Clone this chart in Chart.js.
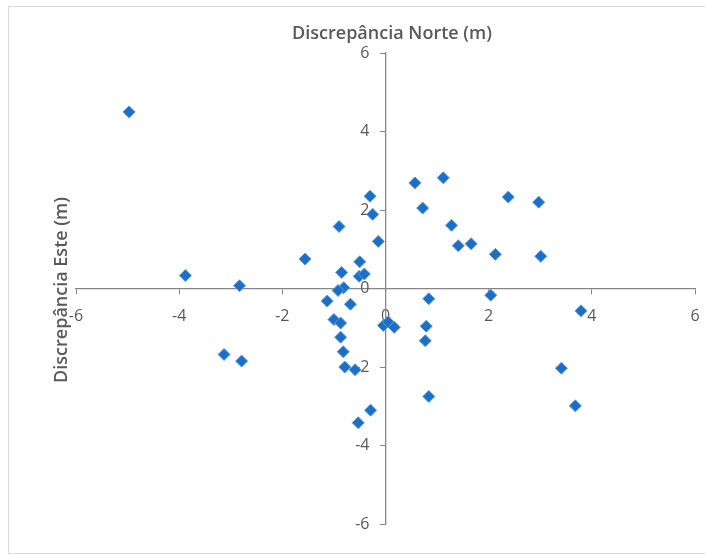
<!DOCTYPE html>
<html>
<head>
<meta charset="utf-8">
<script src="https://cdn.jsdelivr.net/npm/chart.js@4/dist/chart.umd.min.js"></script>
<style>
  html, body { margin: 0; padding: 0; background: #fff; }
  #wrap { position: relative; width: 705px; height: 556px; }
  #frame { position: absolute; left: 8px; top: 6px; width: 705px; height: 548px; border: 1px solid #d9d9d9; box-sizing: border-box; }
  canvas { position: absolute; left: 0; top: 0; }
</style>
</head>
<body>
<div id="wrap">
  <div id="frame"></div>
  <canvas id="discChart" width="705" height="556"></canvas>
</div>
<script>
// x = horizontal value, y = vertical value of each point
var xDisc = [-4.97, -3.88, -2.83, -1.56, -0.90, -0.30, -0.25, -0.14, -0.50, -0.85,
             -0.51, -0.41, -0.81, -0.92, -1.13, -0.68, -1.00, -0.87, -0.87, -0.82,
             -0.79, -0.59, -3.13, -2.79, -0.29, -0.53, -0.04, 0.05, 0.17, 0.84,
             2.04, 3.79, 0.79, 0.77, 3.41, 0.84, 3.68, 0.57, 1.12, 0.72,
             2.38, 2.97, 1.28, 1.41, 1.66, 2.13, 3.01];
var yDisc = [4.50, 0.33, 0.07, 0.75, 1.58, 2.35, 1.89, 1.20, 0.68, 0.41,
             0.31, 0.37, 0.02, -0.05, -0.32, -0.40, -0.79, -0.88, -1.24, -1.61,
             -2.00, -2.07, -1.68, -1.85, -3.10, -3.42, -0.94, -0.85, -0.99, -0.26,
             -0.17, -0.57, -0.96, -1.33, -2.03, -2.75, -2.99, 2.69, 2.82, 2.05,
             2.33, 2.20, 1.61, 1.09, 1.14, 0.87, 0.82];
var axisMin = -6, axisMax = 6, axisStep = 2;
var titleTop = 'Discrepância Norte (m)';
var titleLeft = 'Discrepância Este (m)';

var points = xDisc.map(function (x, i) { return { x: x, y: yDisc[i] }; });

// both axis titles, placed like the Excel chart (top one centred on the frame)
var axisTitlesPlugin = {
    id: 'axisTitles',
    afterDraw: function (chart) {
        var ctx = chart.ctx;
        ctx.save();
        ctx.font = '600 18px "Open Sans"';
        ctx.fillStyle = '#595959';
        ctx.textAlign = 'center';
        ctx.textBaseline = 'middle';
        ctx.fillText(titleTop, 392, 34);
        ctx.translate(62, 290);
        ctx.rotate(-Math.PI / 2);
        ctx.fillText(titleLeft, 0, 0);
        ctx.restore();
    }
};

var axisColor = '#868686';
var tickFont = { family: 'Open Sans', size: 16 };

var discCtx = document.getElementById('discChart').getContext('2d');
var discChart = new Chart(discCtx, {
    type: 'scatter',
    data: {
        datasets: [{
            data: points,
            pointStyle: 'rectRot',
            pointRadius: 6,
            pointHoverRadius: 6,
            backgroundColor: '#1c6fc6',
            borderColor: '#5b9bd5',
            borderWidth: 1
        }]
    },
    plugins: [axisTitlesPlugin],
    options: {
        responsive: false,
        animation: false,
        layout: { padding: { left: 76, right: 10, top: 53, bottom: 32 } },
        plugins: {
            legend: { display: false },
            tooltip: { enabled: false },
            title: { display: false }
        },
        scales: {
            x: {
                type: 'linear',
                position: { y: 0 },
                min: axisMin, max: axisMax,
                // axis crosses the middle: take no room from the plot
                afterFit: function (s) { s.height = 0; s.paddingLeft = 0; s.paddingRight = 0; },
                border: { color: axisColor, width: 1.3 },
                grid: { drawOnChartArea: false, drawTicks: true, tickLength: 5, color: axisColor },
                ticks: { stepSize: axisStep, color: '#595959', padding: 13, font: tickFont }
            },
            y: {
                type: 'linear',
                position: { x: 0 },
                min: axisMin, max: axisMax,
                afterFit: function (s) { s.width = 0; },
                border: { color: axisColor, width: 1.3 },
                grid: { drawOnChartArea: false, drawTicks: true, tickLength: 5, color: axisColor },
                ticks: {
                    stepSize: axisStep, color: '#595959', font: tickFont,
                    // labels sit left of the axis, clear of the tick marks
                    callback: function (v) { return v + '\u2002\u2002'; }
                }
            }
        }
    }
});
</script>
</body>
</html>
